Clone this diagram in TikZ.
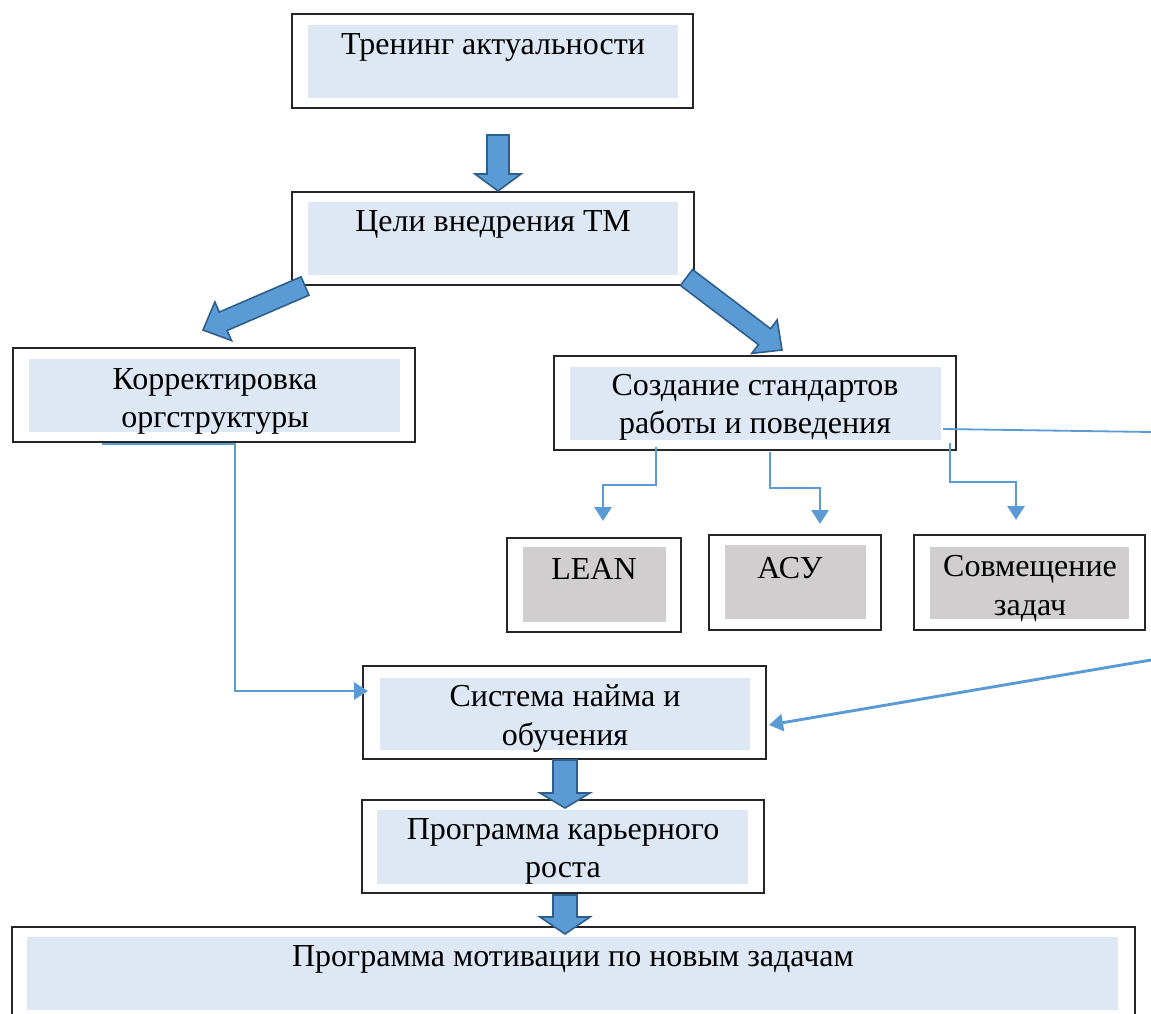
\documentclass[tikz,border=0pt]{standalone}
\usepackage{fontspec}
\setmainfont{Liberation Serif}
\usetikzlibrary{calc,arrows.meta}
\definecolor{fillblue}{HTML}{DEE8F5}
\definecolor{fillgray}{HTML}{D0CECE}
\definecolor{arrfill}{HTML}{5B9BD5}
\definecolor{arrdraw}{HTML}{2E5F8C}
\definecolor{lineblue}{HTML}{5B9BD5}
\tikzset{
  obox/.style={draw=black!85, line width=1.4pt, fill=white, inner sep=0pt, outer sep=0pt},
  txt/.style={font=\fontsize{32}{38.5}\selectfont, align=center, inner sep=0pt},
  barrow/.style={fill=arrfill, draw=arrdraw, line width=1.6pt, line join=miter},
  conn/.style={draw=lineblue, line width=2.9pt},
  tri/.style={-{Triangle[length=14pt,width=17pt]}}
}
% name, x1, y1, x2, y2
\newcommand\outbox[5]{\node[obox, minimum width={#4-#2}, minimum height={#5-#3}] (#1) at ({(#2+#4)/2},{(#3+#5)/2}) {};}
% fill colour, x1, y1, x2, y2
\newcommand\inbox[5]{\path[fill=#1] (#2,#3) rectangle (#4,#5);}
% start, tip, half shaft, half head, head length
\newcommand\blkarr[5]{%
  \path (#1) coordinate (bas) (#2) coordinate (bat);
  \path ($(bat)!#5!(bas)$) coordinate (bab);
  \filldraw[barrow] ($(bas)!#3!90:(bat)$) -- ($(bab)!#3!90:(bat)$) -- ($(bab)!#4!90:(bat)$) -- (bat)
     -- ($(bab)!#4!-90:(bat)$) -- ($(bab)!#3!-90:(bat)$) -- ($(bas)!#3!-90:(bat)$) -- cycle;}
\begin{document}
\begin{tikzpicture}[x=1pt,y=-1pt]
\useasboundingbox (0,0) rectangle (1151,1014);
\clip (0,0) rectangle (1151,1014);
\fill[white] (0,0) rectangle (1151,1014);

% boxes
\outbox{b1}{292}{14}{693}{108}
\inbox{fillblue}{308}{25}{678}{98}
\node[txt] (t1) at (493,47.5) {Тренинг актуальности};

\outbox{b2}{292}{192}{694}{285}
\inbox{fillblue}{308}{202}{678}{275}
\node[txt] (t2) at (493,224.5) {Цели внедрения ТМ};

\outbox{b3}{13}{348}{415}{442}
\inbox{fillblue}{29}{359}{400}{432}
\node[txt] (t3) at (215,401.5) {Корректировка\\оргструктуры};

\outbox{b4}{554}{356}{956}{450}
\inbox{fillblue}{570}{367}{941}{440}
\node[txt] (t4) at (755,407.5) {Создание стандартов\\работы и поведения};

\outbox{lean}{507}{538}{681}{632}
\inbox{fillgray}{523}{547}{666}{622}
\node[txt] (tl) at (594,569) {LEAN};

\outbox{asu}{709}{535}{881}{630}
\inbox{fillgray}{725}{545}{866}{619}
\node[txt] (ta) at (790,568) {АСУ};

\outbox{sovm}{914}{535}{1145}{630}
\inbox{fillgray}{930}{547}{1129}{619}
\node[txt] (ts) at (1030,588.5) {Совмещение\\задач};

\outbox{sys}{363}{666}{766}{759}
\inbox{fillblue}{380}{678}{750}{750}
\node[txt] (ty) at (565,718.5) {Система найма и\\обучения};

\outbox{kar}{362}{800}{764}{893}
\inbox{fillblue}{377}{810}{748}{884}
\node[txt] (tk) at (563,851.5) {Программа карьерного\\роста};

\outbox{mot}{12}{927}{1135}{1040}
\inbox{fillblue}{27}{937}{1118}{1010}
\node[txt] (tm) at (573,959.5) {Программа мотивации по новым задачам};

% block arrows
\blkarr{$(b1.south)+(5.5,27)$}{$(b2.north)+(5,-1)$}{11pt}{23pt}{17pt}
\blkarr{$(b2.south west)+(13,1)$}{$(b3.north)+(-11,-18)$}{10pt}{21pt}{22pt}
\blkarr{$(b2.south east)+(-7.5,-7.5)$}{$(b4.north)+(27,-6)$}{10pt}{21pt}{22pt}
\blkarr{$(sys.south)+(0.5,1)$}{$(kar.north)+(2,8)$}{12pt}{25pt}{15pt}
\blkarr{$(kar.south)+(2,2)$}{$(mot.north)+(-8.5,7)$}{12pt}{25pt}{17pt}

% thin connectors
\coordinate (c3s) at ($(b3.south west)+(89,2)$);
\coordinate (c3k) at (235,444);
\draw[conn,tri] (c3s) -- (c3k) |- ($(sys.west)+(5,-21.5)$);

\coordinate (c4a) at ($(b4.south west)+(102,-3)$);
\coordinate (c4b) at ($(b4.south west)+(216,2)$);
\coordinate (c4c) at ($(b4.south east)+(-6,-7)$);
\draw[conn,tri] (c4a) -- (656,485) -| ($(lean.north)+(9,-17)$);
\draw[conn,tri] (c4b) -- (770,488) -| ($(asu.north)+(25,-11)$);
\draw[conn,tri] (c4c) -- (950,482) -| ($(sovm.north)+(-13.5,-15)$);

\coordinate (rEdgeA) at (1151,432);
\draw[draw=lineblue, line width=1.8pt] ($(b4.east)+(-13,26)$) -- (rEdgeA);
\coordinate (rEdgeB) at (1151,660);
\draw[conn,tri] (rEdgeB) -- ($(sys.east)+(3,12.5)$);
\end{tikzpicture}
\end{document}
